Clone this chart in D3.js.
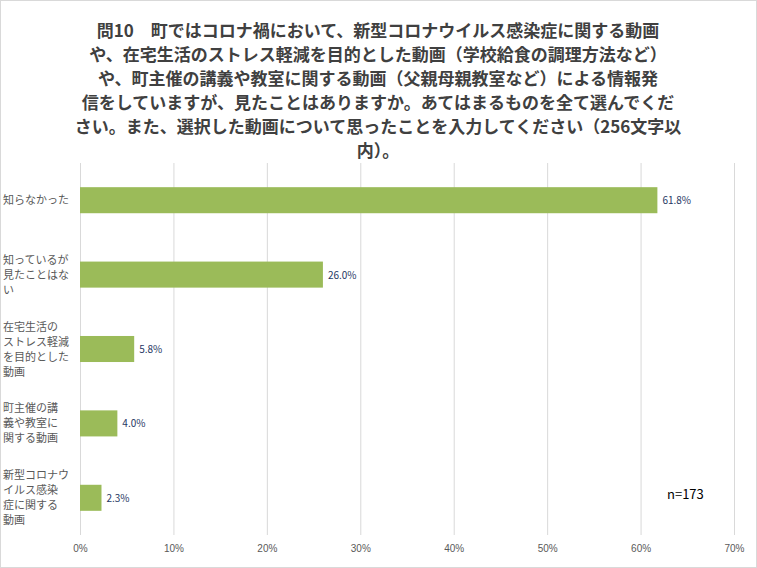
<html>
<head>
<script src="https://d3js.org/d3.v7.min.js"></script>
<style>body{margin:0;background:#fff;font-family:"Noto Sans CJK JP",sans-serif;}</style>
</head>
<body>
<svg id="chart" width="757" height="568"></svg>
<script>
const titleLines = [
  "問10　町ではコロナ禍において、新型コロナウイルス感染症に関する動画",
  "や、在宅生活のストレス軽減を目的とした動画（学校給食の調理方法など）",
  "や、町主催の講義や教室に関する動画（父親母親教室など）による情報発",
  "信をしていますが、見たことはありますか。あてはまるものを全て選んでくだ",
  "さい。また、選択した動画について思ったことを入力してください（256文字以",
  "内）。"
];
const categories = [
  ["知らなかった"],
  ["知っているが", "見たことはな", "い"],
  ["在宅生活の", "ストレス軽減", "を目的とした", "動画"],
  ["町主催の講", "義や教室に", "関する動画"],
  ["新型コロナウ", "イルス感染", "症に関する", "動画"]
];
const values = [61.8, 26.0, 5.8, 4.0, 2.3];
const ticks = [0, 10, 20, 30, 40, 50, 60, 70];

const svg = d3.select("#chart");
svg.append("rect").attr("x", 0.5).attr("y", 0.5).attr("width", 756).attr("height", 567)
  .attr("fill", "#fff").attr("stroke", "#d9d9d9");

svg.append("text").attr("x", 378).attr("y", 37).attr("text-anchor", "middle")
  .attr("font-size", 17).attr("font-weight", "bold").attr("fill", "#404040")
  .selectAll("tspan").data(titleLines).join("tspan")
  .attr("x", 378).attr("dy", (d, i) => i ? 24 : 0).text(d => d);

const x = d3.scaleLinear().domain([0, 70]).range([80, 734]);
const y = d3.scaleBand().domain(d3.range(categories.length)).range([163, 535])
  .paddingInner(0.65).paddingOuter(0.325);

svg.append("g").selectAll("line").data(ticks).join("line")
  .attr("x1", d => x(d) + 0.5).attr("x2", d => x(d) + 0.5)
  .attr("y1", 163).attr("y2", 535).attr("stroke", "#d9d9d9");

const ax = svg.append("g").attr("transform", "translate(0,535)")
  .call(d3.axisBottom(x).tickValues(ticks).tickFormat(d => d + "%").tickSize(0).tickPadding(10));
ax.select(".domain").remove();
ax.selectAll("text").attr("font-size", 10).attr("fill", "#595959");

svg.append("g").selectAll("rect").data(values).join("rect")
  .attr("x", x(0)).attr("y", (d, i) => y(i)).attr("height", y.bandwidth())
  .attr("width", d => x(d) - x(0)).attr("fill", "#9bbb59");

svg.append("g").selectAll("text").data(values).join("text")
  .attr("x", d => x(d) + 5).attr("y", (d, i) => y(i) + y.bandwidth() / 2 + 4)
  .attr("font-size", 10).attr("fill", "#1f3864").text(d => d.toFixed(1) + "%");

svg.append("g").selectAll("text").data(categories).join("text")
  .attr("font-size", 11).attr("fill", "#595959")
  .each(function(lines, i) {
    const cy = y(i) + y.bandwidth() / 2;
    const top = cy - (lines.length - 1) * 15 / 2 + 4;
    d3.select(this).selectAll("tspan").data(lines).join("tspan")
      .attr("x", 3).attr("y", (d, j) => top + j * 15).text(d => d);
  });

svg.append("text").attr("x", 667).attr("y", 499).attr("font-size", 13)
  .attr("fill", "#000").text("n=173");
</script>
</body>
</html>
